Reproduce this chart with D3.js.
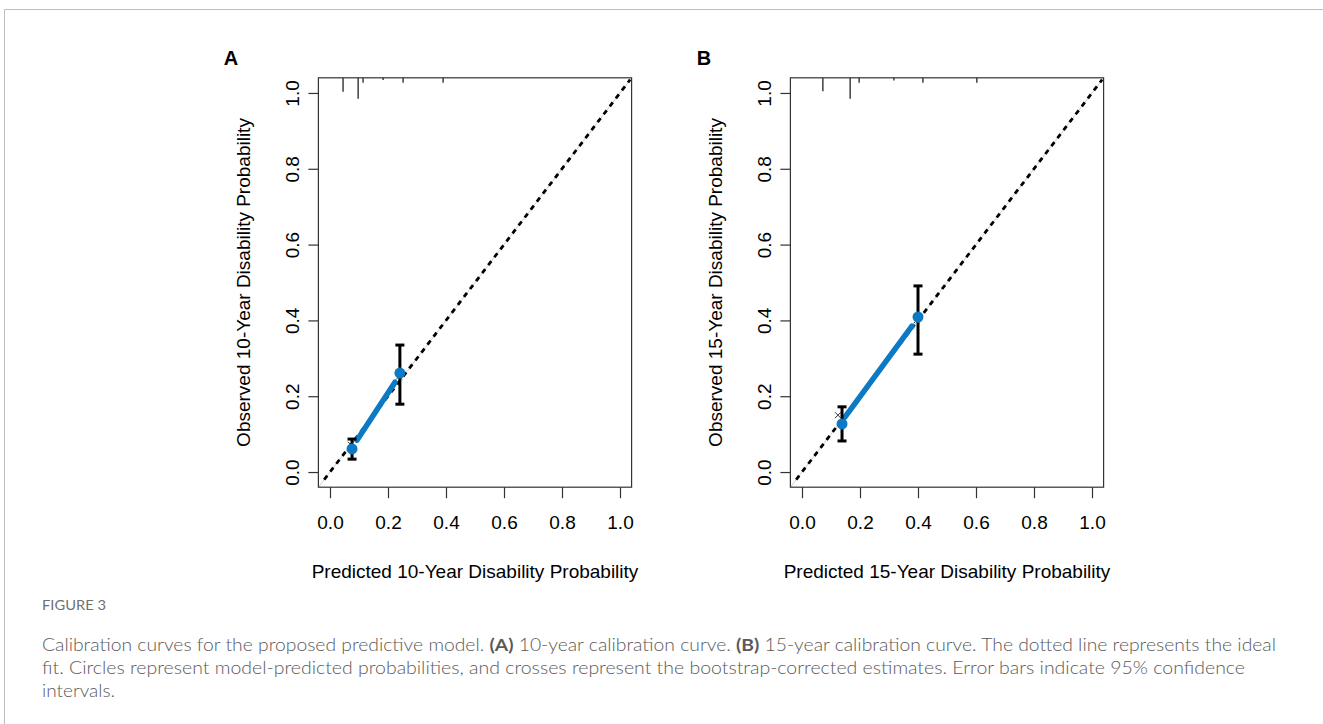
<!DOCTYPE html>
<html lang="en">
<head>
    <meta charset="UTF-8">
    <title>Calibration curves</title>
    <script src="https://d3js.org/d3.v7.min.js"></script>
    <style>
        body { margin: 0; background: #fff; }
    </style>
</head>
<body>
<div id="chart"></div>

<script type=text/javascript>
    var width = 1323;
    var height = 724;

    // axis ticks shared by both panels
    var tickValues = [0, 0.2, 0.4, 0.6, 0.8, 1.0];

    // panel A: 10-year
    var predA = [0.076, 0.241];
    var obsA = [0.061, 0.261];
    var loA = [0.034, 0.179];
    var hiA = [0.087, 0.335];
    var fitXA = [0.093, 0.224];
    var fitYA = [0.084, 0.237];
    var corrXA = [0.072, 0.238];
    var corrYA = [0.072, 0.252];
    var rugXA = [0.045, 0.097, 0.114, 0.183, 0.252, 0.39];
    var rugFA = [0.65, 1.0, 0.2, 0.06, 0.2, 0.2];

    // panel B: 15-year
    var predB = [0.138, 0.400];
    var obsB = [0.127, 0.409];
    var loB = [0.082, 0.311];
    var hiB = [0.172, 0.491];
    var fitXB = [0.148, 0.379];
    var fitYB = [0.145, 0.385];
    var corrXB = [0.124, 0.395];
    var corrYB = [0.150, 0.400];
    var rugXB = [0.072, 0.166, 0.197, 0.317, 0.417, 0.603];
    var rugFB = [0.62, 1.0, 0.2, 0.08, 0.2, 0.2];

    var blue = "#0b79c4";

    var svg = d3.select("#chart")
        .append("svg")
        .attr("width", width)
        .attr("height", height)
        .style("font-family", "'Liberation Sans', Arial, sans-serif");

    // page frame
    svg.append("line").attr("x1", 4.5).attr("x2", width).attr("y1", 9.5).attr("y2", 9.5)
        .attr("stroke", "#bdbdbd").attr("stroke-width", 1);
    svg.append("line").attr("x1", 4.5).attr("x2", 4.5).attr("y1", 9.5).attr("y2", height)
        .attr("stroke", "#bdbdbd").attr("stroke-width", 1);

    function panel(opt) {
        var x = d3.scaleLinear().domain([-0.04, 1.04]).range([opt.left, opt.left + 313.2]);
        var y = d3.scaleLinear().domain([-0.04, 1.04]).range([487.2, 77.8]);
        var g = svg.append("g");

        // panel letter
        g.append("text")
            .attr("x", opt.letterX).attr("y", 65)
            .attr("text-anchor", "middle")
            .attr("font-size", "20px").attr("font-weight", "bold")
            .text(opt.letter);

        // reference diagonal: faint solid + black dashes
        g.append("line")
            .attr("x1", x(-0.04)).attr("y1", y(-0.04))
            .attr("x2", x(1.04)).attr("y2", y(1.04))
            .attr("stroke", "#d0d0d0").attr("stroke-width", 1);
        g.append("line")
            .attr("x1", x(-0.02)).attr("y1", y(-0.02))
            .attr("x2", x(1.035)).attr("y2", y(1.035))
            .attr("stroke", "#000").attr("stroke-width", 2.8)
            .attr("stroke-dasharray", "5,5");

        // rug of predicted values along the top
        var rugLen = d3.scaleLinear().domain([0, 1]).range([1, 21]);
        g.selectAll(".rug").data(opt.rugX).enter().append("line")
            .attr("x1", function (d) { return x(d); })
            .attr("x2", function (d) { return x(d); })
            .attr("y1", y(1.04))
            .attr("y2", function (d, i) { return y(1.04) + rugLen(opt.rugF[i]); })
            .attr("stroke", "#222").attr("stroke-width", 1.3);

        // fitted calibration curve
        var line = d3.line()
            .x(function (d) { return x(d[0]); })
            .y(function (d) { return y(d[1]); });
        g.append("path")
            .attr("d", line(d3.zip(opt.fitX, opt.fitY)))
            .attr("fill", "none").attr("stroke", blue)
            .attr("stroke-width", 5.5).attr("stroke-linecap", "round");

        // error bars
        opt.pred.forEach(function (p, i) {
            var cx = x(p);
            g.append("line")
                .attr("x1", cx).attr("x2", cx)
                .attr("y1", y(opt.lo[i])).attr("y2", y(opt.hi[i]))
                .attr("stroke", "#000").attr("stroke-width", 3);
            [opt.lo[i], opt.hi[i]].forEach(function (v) {
                g.append("line")
                    .attr("x1", cx - 4.5).attr("x2", cx + 4.5)
                    .attr("y1", y(v)).attr("y2", y(v))
                    .attr("stroke", "#000").attr("stroke-width", 3);
            });
        });

        // bootstrap-corrected crosses
        opt.corrX.forEach(function (c, i) {
            var cx = x(c), cy = y(opt.corrY[i]);
            g.append("path")
                .attr("d", "M" + (cx - 3) + "," + (cy - 3) + "L" + (cx + 3) + "," + (cy + 3) +
                    "M" + (cx - 3) + "," + (cy + 3) + "L" + (cx + 3) + "," + (cy - 3))
                .attr("stroke", "#333").attr("stroke-width", 1);
        });

        // model-predicted circles
        g.selectAll(".pt").data(opt.pred).enter().append("circle")
            .attr("cx", function (d) { return x(d); })
            .attr("cy", function (d, i) { return y(opt.obs[i]); })
            .attr("r", 5.5)
            .attr("fill", blue);

        // box
        g.append("rect")
            .attr("x", x(-0.04)).attr("y", y(1.04))
            .attr("width", x(1.04) - x(-0.04))
            .attr("height", y(-0.04) - y(1.04))
            .attr("fill", "none").attr("stroke", "#333").attr("stroke-width", 1.2);

        // x axis
        var xa = g.append("g")
            .attr("transform", "translate(0," + y(-0.04) + ")")
            .call(d3.axisBottom(x).tickValues(tickValues).tickSize(11).tickFormat(d3.format(".1f")));
        xa.select(".domain").remove();
        xa.selectAll(".tick line").attr("stroke", "#333").attr("stroke-width", 1.2);
        xa.selectAll("text")
            .attr("y", 42).attr("dy", 0)
            .attr("font-size", "19px").attr("font-family", "'Liberation Sans', Arial, sans-serif")
            .attr("fill", "#000");

        // y axis
        var ya = g.append("g")
            .attr("transform", "translate(" + x(-0.04) + ",0)")
            .call(d3.axisLeft(y).tickValues(tickValues).tickSize(10).tickFormat(d3.format(".1f")));
        ya.select(".domain").remove();
        ya.selectAll(".tick line").attr("stroke", "#333").attr("stroke-width", 1.2);
        ya.selectAll("text")
            .attr("x", 0).attr("dy", 0)
            .attr("transform", "translate(-19.6,0) rotate(-90)")
            .attr("text-anchor", "middle")
            .attr("font-size", "19px").attr("font-family", "'Liberation Sans', Arial, sans-serif")
            .attr("fill", "#000");

        // titles
        g.append("text")
            .attr("x", (x(0) + x(1)) / 2).attr("y", 578)
            .attr("text-anchor", "middle").attr("font-size", "19px")
            .text(opt.xTitle);
        g.append("text")
            .attr("transform", "translate(" + (x(-0.04) - 68.6) + "," + y(0.5) + ") rotate(-90)")
            .attr("text-anchor", "middle").attr("font-size", "19px")
            .text(opt.yTitle);
    }

    panel({
        left: 318.4, letter: "A", letterX: 231,
        pred: predA, obs: obsA, lo: loA, hi: hiA,
        fitX: fitXA, fitY: fitYA, corrX: corrXA, corrY: corrYA,
        rugX: rugXA, rugF: rugFA,
        xTitle: "Predicted 10-Year Disability Probability",
        yTitle: "Observed 10-Year Disability Probability"
    });

    panel({
        left: 790.4, letter: "B", letterX: 704,
        pred: predB, obs: obsB, lo: loB, hi: hiB,
        fitX: fitXB, fitY: fitYB, corrX: corrXB, corrY: corrYB,
        rugX: rugXB, rugF: rugFB,
        xTitle: "Predicted 15-Year Disability Probability",
        yTitle: "Observed 15-Year Disability Probability"
    });

    // caption
    var cap = svg.append("g").style("font-family", "Lato, 'Open Sans', sans-serif");
    cap.append("text")
        .attr("x", 42).attr("y", 610)
        .attr("font-size", "14px").attr("fill", "#707070")
        .attr("textLength", 64).attr("lengthAdjust", "spacingAndGlyphs")
        .text("FIGURE 3");

    var l1 = cap.append("text")
        .attr("x", 42).attr("y", 651)
        .attr("font-size", "17px").attr("fill", "#5a5a5a").attr("font-weight", 300)
        .attr("textLength", 1234).attr("lengthAdjust", "spacingAndGlyphs");
    l1.append("tspan").text("Calibration curves for the proposed predictive model. ");
    l1.append("tspan").attr("font-weight", "bold").text("(A)");
    l1.append("tspan").text(" 10-year calibration curve. ");
    l1.append("tspan").attr("font-weight", "bold").text("(B)");
    l1.append("tspan").text(" 15-year calibration curve. The dotted line represents the ideal");

    cap.append("text")
        .attr("x", 42).attr("y", 674)
        .attr("font-size", "17px").attr("fill", "#5a5a5a").attr("font-weight", 300)
        .attr("textLength", 1203).attr("lengthAdjust", "spacingAndGlyphs")
        .text("fit. Circles represent model-predicted probabilities, and crosses represent the bootstrap-corrected estimates. Error bars indicate 95% confidence");

    cap.append("text")
        .attr("x", 42).attr("y", 697)
        .attr("font-size", "17px").attr("fill", "#5a5a5a").attr("font-weight", 300)
        .attr("textLength", 73).attr("lengthAdjust", "spacingAndGlyphs")
        .text("intervals.");
</script>
</body>
</html>
